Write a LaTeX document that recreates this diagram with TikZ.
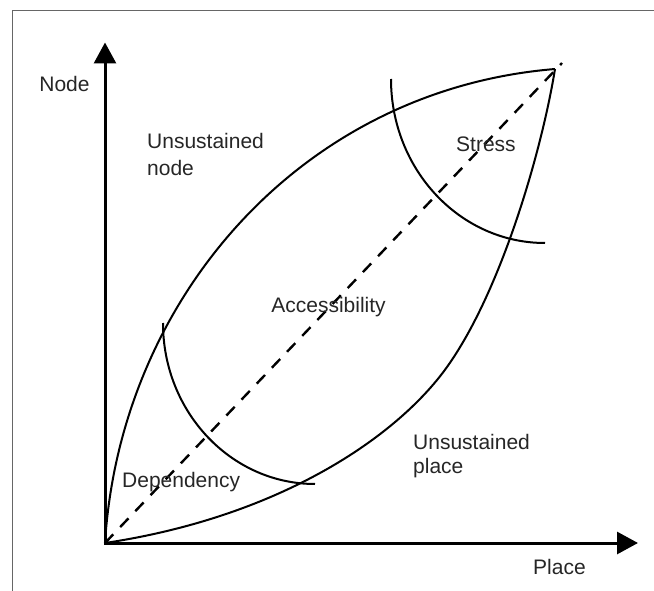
\documentclass[tikz,border=0pt]{standalone}
\usepackage{fontspec}
\setmainfont{Liberation Sans}
\usetikzlibrary{arrows.meta}
\begin{document}
\begin{tikzpicture}[x=1pt,y=-1pt,
  axis/.style={line width=3pt,-{Triangle[length=21pt,width=22pt]}},
  curve/.style={line width=2pt},
  diag/.style={line width=2.4pt,dash pattern=on 12pt off 10pt},
  lbl/.style={inner sep=0pt,font=\fontsize{21}{24}\selectfont,text=black!85}]
\useasboundingbox (0,0) rectangle (654,591);
\draw[black!60,line width=1pt] (12.5,591) -- (12.5,11) -- (654,11);
\coordinate (O) at (105,543);
\coordinate (T) at (555,69);
\coordinate (D) at (562,63);
\coordinate (ytip) at (105,42.5);
\coordinate (xtip) at (638,543);
\draw[axis] (105,544.5) -- (ytip);
\draw[axis] (103.5,543) -- (xtip);
\draw[curve] (O) .. controls (120,300) and (300,90) .. (T);
\draw[curve] (O) .. controls (280,516.75) and (397,437) .. (447,367)
  .. controls (502,290) and (542.3,148) .. (T);
\draw[diag] (O) -- (D);
\draw[curve] (163,323) arc[start angle=180,end angle=90,x radius=152,y radius=161];
\draw[curve] (391,79) arc[start angle=180,end angle=90,x radius=154,y radius=164];
\node[lbl,anchor=base] (nodelbl) at (64.5,92) {Node};
\node[lbl,anchor=base west] (placelbl) at (533,574) {Place};
\node[lbl,anchor=base west] (un1) at (147,149) {Unsustained};
\node[lbl,anchor=base west] (un2) at (147,176) {node};
\node[lbl,anchor=base west] (stress) at (456,152) {Stress};
\node[lbl,anchor=base] (access) at (328.5,312) {Accessibility};
\node[lbl,anchor=base west] (dep) at (122,487) {Dependency};
\node[lbl,anchor=base west] (up1) at (413,449) {Unsustained};
\node[lbl,anchor=base west] (up2) at (413,473) {place};
\end{tikzpicture}
\end{document}
